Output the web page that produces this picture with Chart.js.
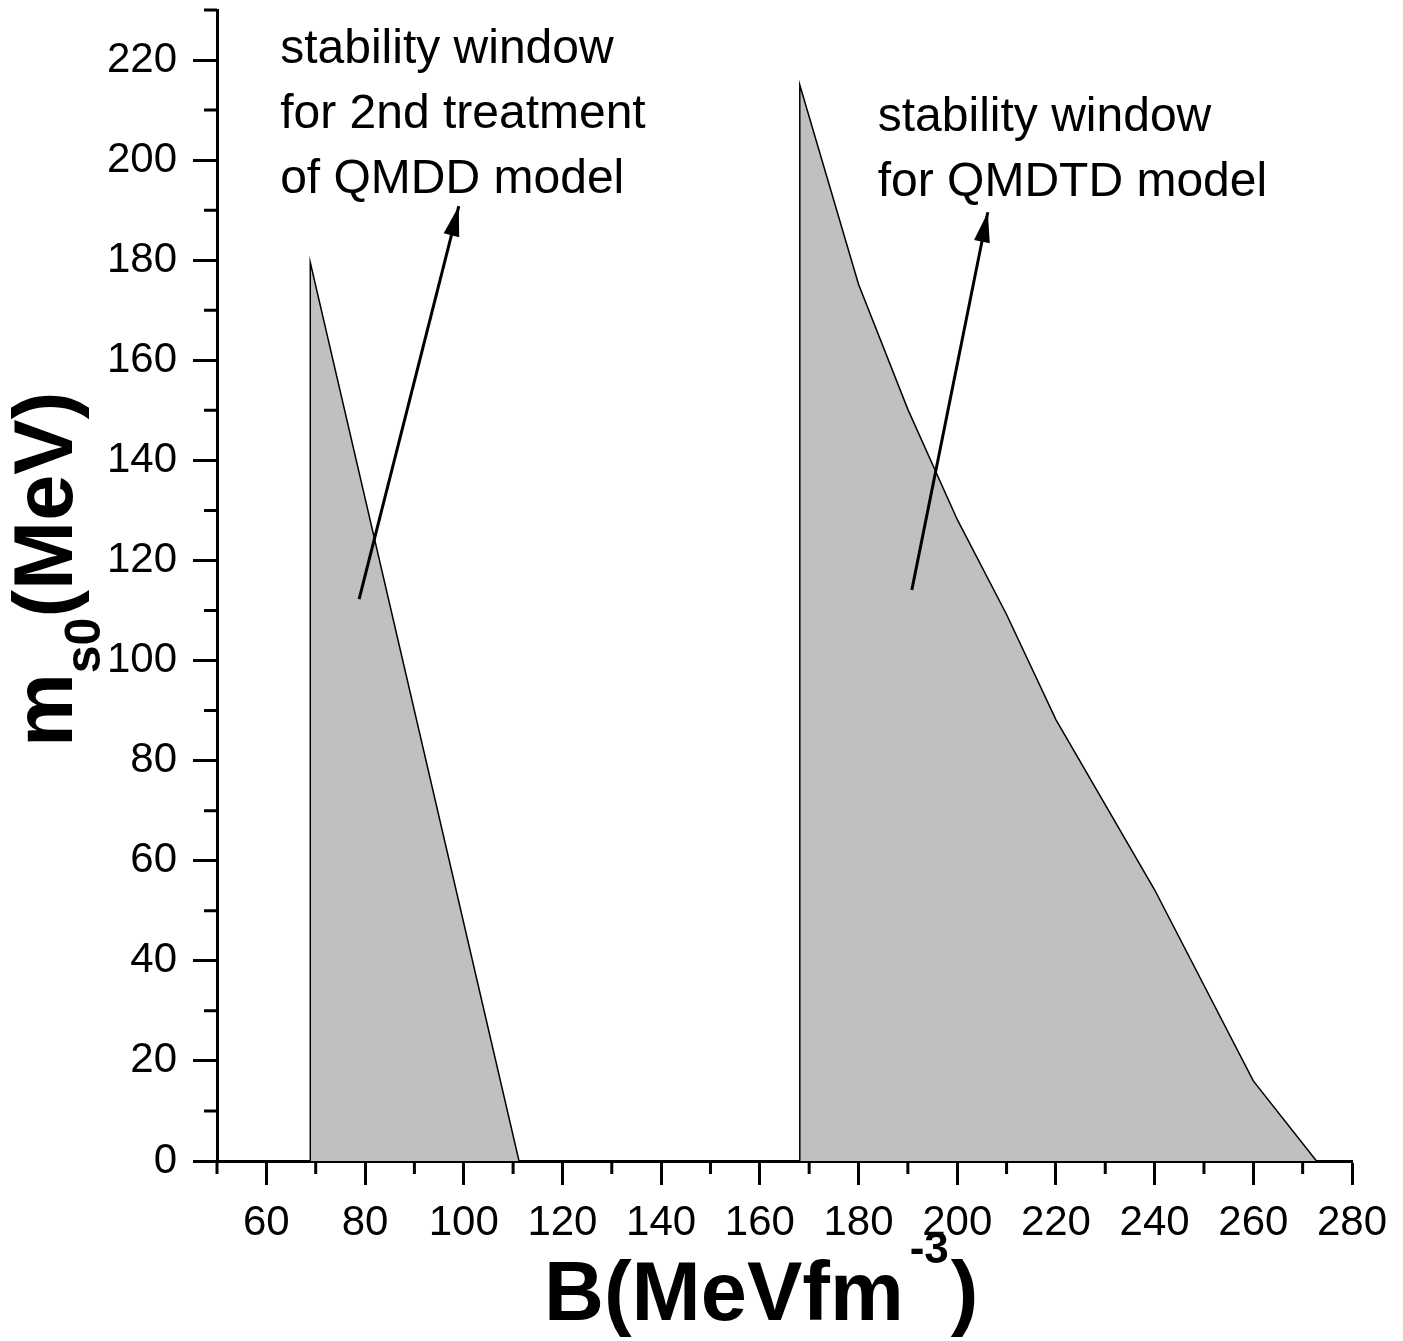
<!DOCTYPE html>
<html>
<head>
<meta charset="utf-8">
<script src="https://cdn.jsdelivr.net/npm/chart.js@4.4.0/dist/chart.umd.min.js"></script>
<style>
html, body { margin: 0; padding: 0; background: #fff; }
#wrap { width: 1403px; height: 1341px; }
</style>
</head>
<body>
<div id="wrap"><canvas id="myChart"></canvas></div>
<script>
// stability window, 2nd treatment of QMDD
const qmddB = [68.9, 68.9, 111.2];
const qmddMs = [0, 179.6, 0];
// stability window, QMDTD
const qmdtdB = [168.1, 168.1, 180, 190, 200, 210, 220, 240, 260, 272.8];
const qmdtdMs = [0, 215, 175.2, 150.2, 128.2, 109.2, 88.2, 54.2, 16, 0];
// arrows (tail -> tip)
const arrowB = [[78.8, 99.0], [190.8, 206.2]];
const arrowMs = [[112.3, 190.8], [114.1, 189.6]];

const xTicks = [60, 80, 100, 120, 140, 160, 180, 200, 220, 240, 260, 280];
const xMinor = [50, 70, 90, 110, 130, 150, 170, 190, 210, 230, 250, 270];
const yTicks = [0, 20, 40, 60, 80, 100, 120, 140, 160, 180, 200, 220];
const yMinor = [10, 30, 50, 70, 90, 110, 130, 150, 170, 190, 210, 230];

const noteLeft = ['stability window', 'for 2nd treatment', 'of QMDD model'];
const noteRight = ['stability window', 'for QMDTD model'];

const FONT = '"Liberation Sans", Arial, sans-serif';

const toPts = (xs, ys) => xs.map((x, i) => ({ x: x, y: ys[i] }));

const ctx = document.getElementById('myChart');

const extras = {
    id: 'extras',
    afterDatasetsDraw(chart) {
        const c = chart.ctx;
        const xs = chart.scales.x, ys = chart.scales.y;
        const area = chart.chartArea;
        c.save();
        // arrow heads
        chart.data.datasets.forEach((ds, i) => {
            if (!ds.arrow) return;
            const pts = chart.getDatasetMeta(i).data;
            const a = pts[0], b = pts[1];
            const ang = Math.atan2(b.y - a.y, b.x - a.x);
            const len = 30, half = 8;
            c.fillStyle = '#000';
            c.beginPath();
            c.moveTo(b.x, b.y);
            c.lineTo(b.x - len * Math.cos(ang) + half * Math.sin(ang), b.y - len * Math.sin(ang) - half * Math.cos(ang));
            c.lineTo(b.x - len * Math.cos(ang) - half * Math.sin(ang), b.y - len * Math.sin(ang) + half * Math.cos(ang));
            c.closePath();
            c.fill();
        });
        // minor ticks
        c.strokeStyle = '#000';
        c.lineWidth = 3;
        c.beginPath();
        xMinor.forEach(v => {
            const px = xs.getPixelForValue(v);
            c.moveTo(px, area.bottom);
            c.lineTo(px, area.bottom + 13);
        });
        yMinor.forEach(v => {
            const py = ys.getPixelForValue(v);
            c.moveTo(area.left, py);
            c.lineTo(area.left - 13, py);
        });
        c.stroke();
        // notes
        c.fillStyle = '#000';
        c.font = '48px ' + FONT;
        c.textBaseline = 'alphabetic';
        c.textAlign = 'left';
        noteLeft.forEach((t, i) => c.fillText(t, xs.getPixelForValue(62.8), ys.getPixelForValue(219.4) + i * 65));
        noteRight.forEach((t, i) => c.fillText(t, xs.getPixelForValue(183.9), ys.getPixelForValue(205.8) + i * 65));
        // x title
        let x = area.left + 327, y = area.bottom + 159;
        c.font = 'bold 83px ' + FONT;
        c.fillText('B(MeVfm', x, y);
        x += c.measureText('B(MeVfm').width + 6;
        c.font = 'bold 44px ' + FONT;
        c.fillText('-3', x, y - 57);
        x += c.measureText('-3').width + 2;
        c.font = 'bold 83px ' + FONT;
        c.fillText(')', x, y);
        // y title
        c.translate(area.left - 145, 747);
        c.rotate(-Math.PI / 2);
        let tx = 0;
        c.font = 'bold 83px ' + FONT;
        c.fillText('m', tx, 0);
        tx += c.measureText('m').width;
        c.font = 'bold 50px ' + FONT;
        c.fillText('s0', tx, 28);
        tx += c.measureText('s0').width;
        c.font = 'bold 83px ' + FONT;
        c.fillText('(MeV)', tx, 0);
        c.restore();
    }
};

const axisCommon = {
    type: 'linear',
    border: { display: true, color: '#000', width: 3 },
    grid: { display: true, drawOnChartArea: false, tickLength: 24, tickWidth: 3, tickColor: '#000' },
    ticks: { color: '#000', font: { family: FONT, size: 42 } }
};

new Chart(ctx, {
    type: 'line',
    data: {
        datasets: [{
            label: '2nd treatment of QMDD',
            data: toPts(qmddB, qmddMs),
            borderColor: '#000',
            borderWidth: 1.5,
            backgroundColor: '#c0c0c0',
            fill: 'origin',
            pointRadius: 0,
            tension: 0,
            order: 1
        }, {
            label: 'QMDTD',
            data: toPts(qmdtdB, qmdtdMs),
            borderColor: '#000',
            borderWidth: 1.5,
            backgroundColor: '#c0c0c0',
            fill: 'origin',
            pointRadius: 0,
            tension: 0,
            order: 1
        }, {
            label: 'arrow1',
            arrow: true,
            data: toPts(arrowB[0], arrowMs[0]),
            borderColor: '#000',
            borderWidth: 3,
            fill: false,
            pointRadius: 0,
            order: 0
        }, {
            label: 'arrow2',
            arrow: true,
            data: toPts(arrowB[1], arrowMs[1]),
            borderColor: '#000',
            borderWidth: 3,
            fill: false,
            pointRadius: 0,
            order: 0
        }]
    },
    options: {
        responsive: true,
        maintainAspectRatio: false,
        animation: false,
        layout: { padding: { left: 87, right: 51, top: 10, bottom: 80 } },
        plugins: { legend: { display: false }, tooltip: { enabled: false } },
        scales: {
            x: {
                ...axisCommon,
                min: 50,
                max: 280,
                ticks: { ...axisCommon.ticks, padding: 13, maxRotation: 0 },
                afterBuildTicks: s => { s.ticks = xTicks.map(v => ({ value: v })); },
                afterFit: s => { s.height = 100; s.paddingLeft = 0; s.paddingRight = 0; }
            },
            y: {
                ...axisCommon,
                min: 0,
                max: 230,
                ticks: { ...axisCommon.ticks, padding: 16 },
                afterBuildTicks: s => { s.ticks = yTicks.map(v => ({ value: v })); },
                afterFit: s => { s.width = 130; s.paddingTop = 0; s.paddingBottom = 0; }
            }
        }
    },
    plugins: [extras]
});
</script>
</body>
</html>
